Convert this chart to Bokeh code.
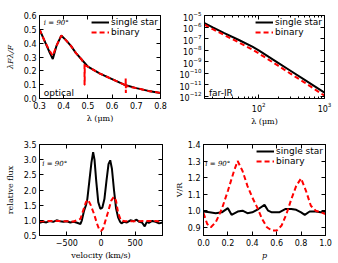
from bokeh.plotting import figure
from bokeh.layouts import column, row
from bokeh.models import (FixedTicker, PrintfTickFormatter, LinearAxis, LogAxis, Label,
                          Legend, LegendItem, Range1d, LogTickFormatter)
from bokeh.embed import file_html
from bokeh.resources import INLINE

# ---------------- data ----------------
opt_wl_single = [0.30, 0.32, 0.34, 0.355, 0.37, 0.39, 0.41, 0.43, 0.45, 0.475, 0.50, 0.55, 0.60, 0.65, 0.70, 0.75, 0.80]
opt_f_single = [0.50, 0.42, 0.34, 0.285, 0.38, 0.455, 0.42, 0.38, 0.33, 0.28, 0.23, 0.18, 0.14, 0.10, 0.075, 0.055, 0.04]
opt_wl_binary = [0.30, 0.32, 0.34, 0.355, 0.37, 0.39, 0.41, 0.43, 0.45, 0.475, 0.486, 0.4862, 0.4868, 0.487, 0.50, 0.55, 0.60, 0.65, 0.656, 0.6562, 0.6568, 0.657, 0.70, 0.75, 0.80]
opt_f_binary = [0.50, 0.42, 0.35, 0.31, 0.38, 0.455, 0.42, 0.38, 0.33, 0.28, 0.245, 0.10, 0.10, 0.24, 0.23, 0.18, 0.14, 0.10, 0.095, 0.145, 0.04, 0.09, 0.075, 0.055, 0.04]

ir_wl = [15, 20, 30, 50, 80, 100, 200, 300, 500, 1000]
ir_f_single = [2.2e-6, 9.5e-7, 3.0e-7, 7.5e-8, 2.0e-8, 9.5e-9, 7.5e-10, 1.7e-10, 2.6e-11, 2.0e-12]
ir_f_binary = [1.6e-6, 6.5e-7, 2.0e-7, 4.6e-8, 1.1e-8, 5.2e-9, 4.2e-10, 9.5e-11, 1.5e-11, 1.1e-12]
ir_major_ticks = [100, 1000]
ir_minor_ticks = [20, 30, 40, 50, 60, 70, 80, 90, 200, 300, 400, 500, 600, 700, 800, 900]
ir_y_ticks = [1e-12, 1e-11, 1e-10, 1e-9, 1e-8, 1e-7, 1e-6, 1e-5]

vel = [-900, -850, -800, -750, -700, -650, -600, -550, -500, -450, -400, -350, -300, -280, -250, -220, -200, -170, -140, -115, -95, -70, -40, -10, 20, 50, 80, 110, 135, 160, 190, 220, 250, 280, 300, 330, 380, 430, 480, 520, 560, 600, 640, 670, 700, 750, 800, 850, 900]
flux_single = [0.92, 0.95, 0.93, 0.98, 0.95, 1.00, 0.97, 0.95, 0.97, 0.93, 0.95, 0.92, 0.88, 1.00, 1.30, 1.50, 1.70, 2.30, 2.90, 3.25, 3.00, 2.30, 1.60, 1.38, 1.42, 1.70, 2.30, 2.85, 2.98, 2.70, 2.00, 1.40, 1.10, 0.95, 0.90, 0.95, 0.93, 1.00, 0.97, 1.02, 0.95, 0.93, 0.80, 0.95, 0.92, 0.98, 0.95, 0.90, 0.93]
vel_b = [-900, -700, -500, -400, -300, -250, -220, -190, -150, -100, -60, -30, 0, 30, 60, 100, 150, 190, 220, 250, 290, 350, 500, 700, 900]
flux_binary = [0.97, 0.98, 0.97, 0.96, 1.05, 1.40, 1.60, 1.68, 1.50, 1.20, 0.90, 0.72, 0.65, 0.72, 0.95, 1.25, 1.65, 1.78, 1.65, 1.25, 1.00, 0.97, 0.97, 0.98, 0.97]

phase = [0.0, 0.05, 0.10, 0.15, 0.20, 0.23, 0.28, 0.32, 0.36, 0.40, 0.45, 0.50, 0.53, 0.56, 0.62, 0.67, 0.72, 0.76, 0.80, 0.83, 0.87, 0.92, 0.96, 1.0]
vr_single = [0.995, 0.99, 0.985, 0.99, 1.015, 0.975, 0.995, 1.0, 0.985, 0.99, 1.01, 1.035, 1.0, 0.99, 0.99, 1.01, 1.01, 1.005, 0.99, 0.975, 0.995, 0.995, 0.99, 0.995]
phase_b = [0.0, 0.03, 0.06, 0.10, 0.15, 0.20, 0.25, 0.28, 0.32, 0.36, 0.40, 0.44, 0.48, 0.52, 0.56, 0.60, 0.64, 0.68, 0.72, 0.76, 0.80, 0.84, 0.88, 0.92, 0.96, 1.0]
vr_binary = [0.985, 0.92, 0.90, 0.93, 1.01, 1.12, 1.24, 1.30, 1.24, 1.15, 1.08, 1.02, 0.95, 0.90, 0.88, 0.88, 0.91, 0.98, 1.07, 1.15, 1.195, 1.12, 1.03, 1.00, 0.99, 0.98]

TICK_FONT = "DejaVu Sans"
LABEL_FONT = "DejaVu Serif"
RED = "#ff0000"


def style(p, log=False, ylabel_standoff=2):
    p.outline_line_color = "black"
    p.outline_line_width = 1
    p.xgrid.visible = False
    p.ygrid.visible = False
    p.background_fill_color = "white"
    p.border_fill_color = "white"
    for ax in p.xaxis + p.yaxis:
        ax.major_tick_in = 4
        ax.major_tick_out = 0
        ax.minor_tick_in = 2 if log else 0
        ax.minor_tick_out = 0
        ax.major_label_text_font = TICK_FONT
        ax.major_label_text_font_size = "8px"
        ax.major_label_text_color = "black"
        ax.major_label_standoff = 3
        ax.axis_label_text_font = LABEL_FONT
        ax.axis_label_text_font_size = "8px"
        ax.axis_label_text_font_style = "normal"
        ax.axis_label_text_color = "black"
        ax.axis_label_standoff = 2
        ax.axis_line_color = "black"
    for ax in p.yaxis:
        ax.axis_label_standoff = ylabel_standoff


def mirror(p, xticker, yticker, log=False):
    cls = LogAxis if log else LinearAxis
    top = cls(ticker=xticker)
    right = cls(ticker=yticker)
    for ax in (top, right):
        ax.major_tick_in = 4
        ax.major_tick_out = 0
        ax.minor_tick_in = 2 if log else 0
        ax.minor_tick_out = 0
        ax.major_label_standoff = 0
        ax.major_label_text_font_size = "1px"
        ax.major_label_text_alpha = 0.0
    p.add_layout(top, "above")
    p.add_layout(right, "right")


def add_legend(p, r1, r2):
    leg = Legend(items=[LegendItem(label="single star", renderers=[r1]),
                        LegendItem(label="binary", renderers=[r2])],
                 location="top_right")
    leg.label_text_font = TICK_FONT
    leg.label_text_font_size = "9px"
    leg.label_text_color = "black"
    leg.label_height = 9
    leg.glyph_height = 10
    leg.glyph_width = 18
    leg.label_standoff = 2
    leg.spacing = 0
    leg.padding = 1
    leg.margin = 2
    leg.border_line_color = None
    leg.background_fill_alpha = 0.0
    p.add_layout(leg)


def txt(p, x, y, s, size="8px", font=LABEL_FONT, style_="italic", baseline="middle"):
    p.add_layout(Label(x=x, y=y, text=s, text_font=font, text_font_size=size,
                       text_font_style=style_, text_baseline=baseline, text_color="black"))


# ---------------- panel 1: optical ----------------
p1 = figure(width=171, height=128, output_backend="svg", toolbar_location=None,
            x_range=Range1d(0.3, 0.8), y_range=Range1d(0.0, 0.6),
            min_border_left=39, min_border_right=11, min_border_top=15, min_border_bottom=27)
r1 = p1.line(opt_wl_single, opt_f_single, line_color="black", line_width=2)
r2 = p1.line(opt_wl_binary, opt_f_binary, line_color=RED, line_width=2, line_dash="5 3")
p1.xaxis.ticker = FixedTicker(ticks=[0.3, 0.4, 0.5, 0.6, 0.7, 0.8])
p1.yaxis.ticker = FixedTicker(ticks=[0.0, 0.1, 0.2, 0.3, 0.4, 0.5, 0.6])
p1.xaxis.formatter = PrintfTickFormatter(format="%.1f")
p1.yaxis.formatter = PrintfTickFormatter(format="%.1f")
p1.xaxis.axis_label = "λ (μm)"
p1.yaxis.axis_label = "λFλ/F"
style(p1, ylabel_standoff=6)
p1.yaxis.axis_label_text_font_style = "italic"
mirror(p1, FixedTicker(ticks=[0.3, 0.4, 0.5, 0.6, 0.7, 0.8]),
       FixedTicker(ticks=[0.0, 0.1, 0.2, 0.3, 0.4, 0.5, 0.6]))
add_legend(p1, r1, r2)
txt(p1, 0.318, 0.545, "i = 90°", size="7px")
txt(p1, 0.318, 0.005, "optical", size="9px", font=TICK_FONT, style_="normal", baseline="bottom")

# ---------------- panel 2: far-IR ----------------
p2 = figure(width=166, height=128, output_backend="svg", toolbar_location=None,
            x_axis_type="log", y_axis_type="log",
            x_range=Range1d(15, 1000), y_range=Range1d(10 ** -12.2, 1e-5),
            min_border_left=33, min_border_right=13, min_border_top=15, min_border_bottom=27)
q1 = p2.line(ir_wl, ir_f_single, line_color="black", line_width=2)
q2 = p2.line(ir_wl, ir_f_binary, line_color=RED, line_width=2, line_dash="5 3")
p2.xaxis.ticker = FixedTicker(ticks=ir_major_ticks, minor_ticks=ir_minor_ticks)
p2.xaxis.formatter = LogTickFormatter()
p2.yaxis.ticker = FixedTicker(ticks=ir_y_ticks)
p2.yaxis.formatter = LogTickFormatter()
p2.xaxis.axis_label = "λ (μm)"
style(p2, log=True)
mirror(p2, FixedTicker(ticks=ir_major_ticks, minor_ticks=ir_minor_ticks),
       FixedTicker(ticks=ir_y_ticks), log=True)
add_legend(p2, q1, q2)
txt(p2, 17.5, 10 ** -12.15, "far-IR", size="9px", font=TICK_FONT, style_="normal", baseline="bottom")

# ---------------- panel 3: line profile ----------------
p3 = figure(width=171, height=134, output_backend="svg", toolbar_location=None,
            x_range=Range1d(-900, 900), y_range=Range1d(0.5, 3.5),
            min_border_left=39, min_border_right=9, min_border_top=16, min_border_bottom=27)
p3.line(vel, flux_single, line_color="black", line_width=2)
p3.line(vel_b, flux_binary, line_color=RED, line_width=2, line_dash="5 3")
p3.xaxis.ticker = FixedTicker(ticks=[-500, 0, 500])
p3.xaxis.major_label_overrides = {-500: "−500", 0: "0", 500: "500"}
p3.yaxis.ticker = FixedTicker(ticks=[0.5, 1.0, 1.5, 2.0, 2.5, 3.0, 3.5])
p3.yaxis.formatter = PrintfTickFormatter(format="%.1f")
p3.xaxis.axis_label = "velocity (km/s)"
p3.yaxis.axis_label = "relative flux"
style(p3, ylabel_standoff=6)
mirror(p3, FixedTicker(ticks=[-500, 0, 500]),
       FixedTicker(ticks=[0.5, 1.0, 1.5, 2.0, 2.5, 3.0, 3.5]))
txt(p3, -860, 2.87, "i = 90°", size="7px")

# ---------------- panel 4: V/R ----------------
p4 = figure(width=166, height=134, output_backend="svg", toolbar_location=None,
            x_range=Range1d(0.0, 1.0), y_range=Range1d(0.85, 1.4),
            min_border_left=30, min_border_right=12, min_border_top=16, min_border_bottom=27)
s1 = p4.line(phase, vr_single, line_color="black", line_width=2)
s2 = p4.line(phase_b, vr_binary, line_color=RED, line_width=2, line_dash="5 3")
p4.xaxis.ticker = FixedTicker(ticks=[0.0, 0.2, 0.4, 0.6, 0.8, 1.0])
p4.xaxis.formatter = PrintfTickFormatter(format="%.1f")
p4.yaxis.ticker = FixedTicker(ticks=[0.9, 1.0, 1.1, 1.2, 1.3, 1.4])
p4.yaxis.formatter = PrintfTickFormatter(format="%.1f")
p4.xaxis.axis_label = "p"
p4.yaxis.axis_label = "V/R"
style(p4, ylabel_standoff=1)
p4.xaxis.axis_label_text_font_style = "italic"
mirror(p4, FixedTicker(ticks=[0.0, 0.2, 0.4, 0.6, 0.8, 1.0]),
       FixedTicker(ticks=[0.9, 1.0, 1.1, 1.2, 1.3, 1.4]))
add_legend(p4, s1, s2)
txt(p4, 0.015, 1.285, "i = 90°", size="7px")

layout = column(row(p1, p2), row(p3, p4))
open("out.html", "w").write(file_html(layout, INLINE))
